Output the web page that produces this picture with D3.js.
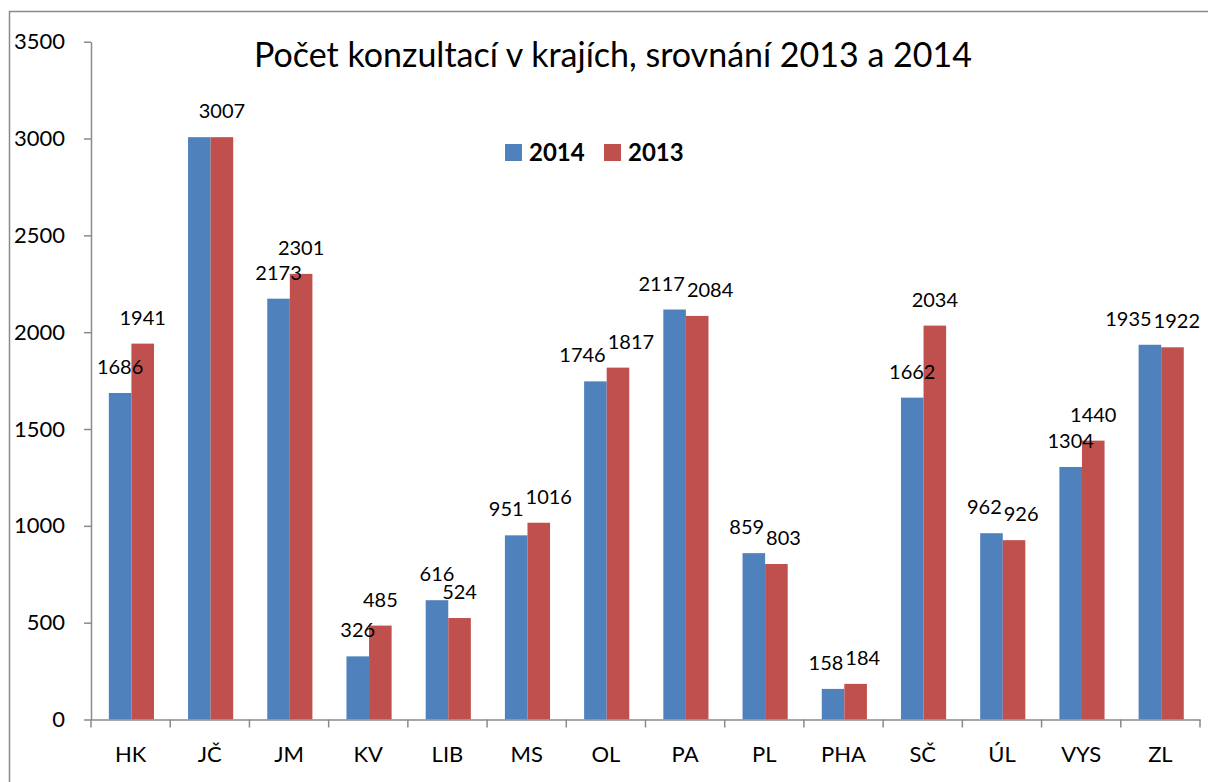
<!DOCTYPE html>
<html>
<head>
<meta charset="utf-8">
<script src="https://cdn.jsdelivr.net/npm/d3@7"></script>
<style>
  body { margin: 0; background: #fff; }
  svg text { font-family: Lato, "Open Sans", sans-serif; fill: #000; }
</style>
</head>
<body>
<div id="chart"></div>
<script>
// chart data
var regions = ["HK", "JČ", "JM", "KV", "LIB", "MS", "OL", "PA", "PL", "PHA", "SČ", "ÚL", "VYS", "ZL"];
var years = ["2014", "2013"];
var values2014 = [1686, 3007, 2173, 326, 616, 951, 1746, 2117, 859, 158, 1662, 962, 1304, 1935];
var values2013 = [1941, 3007, 2301, 485, 524, 1016, 1817, 2084, 803, 184, 2034, 926, 1440, 1922];
var yTicks = [0, 500, 1000, 1500, 2000, 2500, 3000, 3500];
var title = "Počet konzultací v krajích, srovnání 2013 a 2014";

var colors = { "2014": "#4f81bd", "2013": "#c0504d" };

var svgWidth = 1208;
var svgHeight = 782;

// plot area
var plotLeft = 91, plotRight = 1200, plotTop = 41.7, plotBottom = 719.5;

var svg = d3.select("#chart")
  .append("svg")
  .attr("width", svgWidth)
  .attr("height", svgHeight);

// outer chart frame (only top and left edges are visible)
svg.append("rect")
  .attr("x", 9.5)
  .attr("y", 11.5)
  .attr("width", 1400)
  .attr("height", 1000)
  .attr("fill", "none")
  .attr("stroke", "#8a8a8a")
  .attr("stroke-width", 1.5);

var data = regions.map(function(r, i) {
  return { region: r, "2014": values2014[i], "2013": values2013[i] };
});

// scales
var x = d3.scaleBand()
  .domain(regions)
  .range([plotLeft, plotRight])
  .padding(0);

var groupWidth = x.bandwidth() * 0.57;

var xInner = d3.scaleBand()
  .domain(years)
  .range([0, groupWidth]);

var y = d3.scaleLinear()
  .domain([0, 3500])
  .range([plotBottom, plotTop]);

// y axis
var yAxis = svg.append("g")
  .attr("transform", `translate(${plotLeft}, 0)`)
  .call(d3.axisLeft(y)
    .tickValues(yTicks)
    .tickFormat(d3.format("d"))
    .tickSize(7)
    .tickSizeOuter(0)
    .tickPadding(19));

yAxis.selectAll("text")
  .style("font-size", "22px");

// bars
var groupX = d => x(d.region) + (x.bandwidth() - groupWidth) / 2 + 0.8;

var groups = svg.append("g")
  .selectAll("g")
  .data(data)
  .enter()
  .append("g")
  .attr("transform", d => `translate(${groupX(d)}, 0)`);

groups.selectAll("rect")
  .data(d => years.map(k => ({ key: k, value: d[k] })))
  .enter()
  .append("rect")
  .attr("x", d => xInner(d.key))
  .attr("y", d => y(d.value))
  .attr("width", xInner.bandwidth())
  .attr("height", d => y(0) - y(d.value))
  .attr("fill", d => colors[d.key]);

// value labels; when both years are equal only one label is shown
groups.selectAll("text")
  .data(d => years
    .filter(k => !(k === "2014" && d["2014"] === d["2013"]))
    .map(k => ({ key: k, value: d[k] })))
  .enter()
  .append("text")
  .attr("class", "value")
  .attr("x", d => xInner(d.key) + xInner.bandwidth() / 2)
  .attr("y", d => y(d.value) - 19)
  .attr("text-anchor", "middle")
  .style("font-size", "20px")
  .text(d => d.value);

// push apart the two labels of a pair when they collide
groups.each(function(d) {
  var nodes = d3.select(this).selectAll("text.value").nodes();
  if (nodes.length < 2) return;
  var a = d3.select(nodes[0]), b = d3.select(nodes[1]);
  var wa = nodes[0].getComputedTextLength(), wb = nodes[1].getComputedTextLength();
  var xa = +a.attr("x"), xb = +b.attr("x");
  var overlap = (xa + wa / 2) - (xb - wb / 2);
  if (overlap > 0 && Math.abs(+a.attr("y") - +b.attr("y")) < 15) {
    var sa = overlap / 2 + 1, sb = overlap / 2 + 1;
    // keep the right label inside the plot
    var room = plotRight - (groupX(d) + xb + wb / 2);
    if (sb > room) { sa += sb - room; sb = room; }
    a.attr("x", xa - sa);
    b.attr("x", xb + sb);
  }
});

// x axis
var xAxis = svg.append("g")
  .attr("transform", `translate(0, ${plotBottom})`)
  .call(d3.axisBottom(x).tickSize(0).tickPadding(27));

xAxis.selectAll("text")
  .style("font-size", "22px");

// category separators below the axis
xAxis.selectAll("line.sep")
  .data(regions.concat(["end"]))
  .enter()
  .append("line")
  .attr("class", "sep")
  .attr("x1", (d, i) => plotLeft + i * x.step())
  .attr("x2", (d, i) => plotLeft + i * x.step())
  .attr("y1", 0)
  .attr("y2", 8);

svg.selectAll(".domain, .tick line, line.sep")
  .attr("stroke", "#8a8a8a")
  .attr("stroke-width", 1.5);

// title
svg.append("text")
  .attr("x", 613)
  .attr("y", 67)
  .attr("text-anchor", "middle")
  .style("font-size", "34px")
  .text(title);

// legend
var legend = svg.append("g")
  .selectAll("g")
  .data(years)
  .enter()
  .append("g")
  .attr("transform", (d, i) => `translate(${505 + i * 99}, 144)`);

legend.append("rect")
  .attr("width", 17)
  .attr("height", 17)
  .attr("fill", d => colors[d]);

legend.append("text")
  .attr("x", 24)
  .attr("y", 17)
  .style("font-size", "24px")
  .style("font-weight", "bold")
  .text(d => d);
</script>
</body>
</html>
